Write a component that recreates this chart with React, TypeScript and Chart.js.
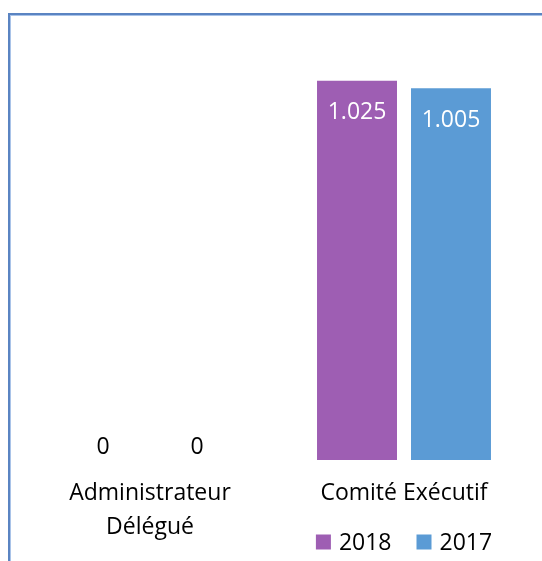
import React, { useEffect, useRef } from "react";
import { Chart, registerables } from "chart.js";

Chart.register(...registerables);

const categories: (string | string[])[] = [["Administrateur", "Délégué"], "Comité Exécutif"];
const seriesLabels = ["2018", "2017"];
const values2018 = [0, 1025];
const values2017 = [0, 1005];
const colors = ["#9E5EB3", "#5B9BD5"];
const axisMax = 1200;

const FONT = "'Open Sans', 'Noto Sans', sans-serif";

function fmt(n: number): string {
  const s = Math.round(n).toString();
  return s.replace(/\B(?=(\d{3})+(?!\d))/g, ".");
}

const labelPlugin = {
  id: "valueLabels",
  afterDatasetsDraw(chart: any) {
    const ctx = chart.ctx;
    ctx.save();
    ctx.font = `23px ${FONT}`;
    ctx.textAlign = "center";
    ctx.textBaseline = "middle";
    chart.data.datasets.forEach((ds: any, di: number) => {
      const meta = chart.getDatasetMeta(di);
      meta.data.forEach((bar: any, i: number) => {
        const v = ds.data[i];
        if (v > 0) {
          ctx.fillStyle = "#FFFFFF";
          ctx.fillText(fmt(v), bar.x, bar.y + 32);
        } else {
          ctx.fillStyle = "#000000";
          ctx.fillText(fmt(v), bar.x, bar.base - 13);
        }
      });
    });
    // legend
    const items = chart.data.datasets.map((d: any) => ({ label: d.label, color: d.backgroundColor }));
    const box = 15;
    const gapText = 8;
    const gapItems = 25;
    const widths = items.map((it: any) => box + gapText + ctx.measureText(it.label).width);
    const total = widths.reduce((a: number, b: number) => a + b, 0) + gapItems * (items.length - 1);
    let x = 404 - total / 2;
    const y = 542;
    items.forEach((it: any, k: number) => {
      ctx.fillStyle = it.color;
      ctx.fillRect(x, y - box / 2, box, box);
      ctx.fillStyle = "#000000";
      ctx.textAlign = "left";
      ctx.fillText(it.label, x + box + gapText, y + 1);
      x += widths[k] + gapItems;
    });
    ctx.restore();
  },
};

export default function App() {
  const ref = useRef<HTMLCanvasElement | null>(null);
  useEffect(() => {
    if (!ref.current) return;
    const chart = new Chart(ref.current, {
      type: "bar",
      data: {
        labels: categories,
        datasets: [
          { label: seriesLabels[0], data: values2018, backgroundColor: colors[0] },
          { label: seriesLabels[1], data: values2017, backgroundColor: colors[1] },
        ],
      },
      options: {
        animation: false,
        responsive: false,
        maintainAspectRatio: false,
        layout: { padding: { left: 23, right: 11, top: 16, bottom: 0 } },
        datasets: { bar: { categoryPercentage: 0.74, barPercentage: 0.851 } } as any,
        plugins: { legend: { display: false }, tooltip: { enabled: false } },
        scales: {
          y: { display: false, min: 0, max: axisMax },
          x: {
            grid: { display: false, drawTicks: false },
            border: { display: false },
            ticks: {
              color: "#000000",
              padding: 16,
              maxRotation: 0,
              font: { family: FONT, size: 23, lineHeight: 1.5 },
            },
          },
        },
      },
      plugins: [labelPlugin],
    });
    return () => chart.destroy();
  }, []);

  return (
    <div style={{ position: "fixed", left: 0, top: 0, width: 542, height: 561, overflow: "hidden", background: "#fff" }}>
      <div
        style={{
          position: "absolute",
          left: 8,
          top: 13,
          width: 700,
          height: 700,
          borderTop: "2px solid #5A84C2",
          borderLeft: "2px solid #5A84C2",
          boxShadow: "inset 1px 1px 0 #A9C3E8",
        }}
      />
      <canvas ref={ref} width={542} height={561} style={{ position: "absolute", left: 0, top: 0 }} />
    </div>
  );
}
